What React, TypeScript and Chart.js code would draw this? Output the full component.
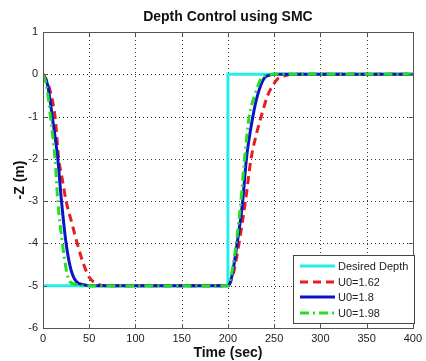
import React, { useEffect, useRef } from "react";
import { Chart, registerables } from "chart.js";

Chart.register(...registerables);

const TITLE = "Depth Control using SMC";
const X_LABEL = "Time (sec)";
const Y_LABEL = "-Z (m)";
const X_MIN = 0;
const X_MAX = 400;
const X_STEP = 50;
const Y_MIN = -6;
const Y_MAX = 1;
const Y_STEP = 1;

const SERIES_LABELS = ["Desired Depth", "U0=1.62", "U0=1.8", "U0=1.98"];

const desiredT = [0, 200, 200, 400];
const desiredZ = [-5, -5, 0, 0];

const u162T = [0, 5, 10, 13, 17, 21, 25, 31, 37, 44, 50, 58, 68, 80, 200, 203, 207, 212, 219, 225, 231, 236, 243, 249, 254, 262, 270, 290, 400];
const u162Z = [0, -0.2, -0.6, -1, -2, -2.5, -3, -3.5, -4, -4.5, -4.8, -4.95, -5, -5, -5, -4.9, -4.6, -4, -3, -2, -1.4, -1, -0.5, -0.25, -0.1, -0.03, 0, 0, 0];

const u18T = [0, 5, 10, 16, 20, 25, 30, 36, 45, 50, 200, 202, 205, 210, 216, 220, 227, 232, 239, 245, 250, 400];
const u18Z = [0, -0.25, -1, -2, -3, -4, -4.6, -4.9, -4.98, -5, -5, -4.95, -4.7, -4, -3, -2, -1, -0.5, -0.1, -0.02, 0, 0];

const u198T = [0, 4, 8, 13, 16, 21, 25, 29, 38, 45, 200, 202, 205, 209, 214, 218, 223, 229, 236, 242, 248, 400];
const u198Z = [0, -0.3, -1, -2, -3, -4, -4.6, -4.9, -4.98, -5, -5, -4.9, -4.6, -4, -3, -2, -1, -0.5, -0.1, -0.02, 0, 0];

const COLORS = ["#22eeee", "#e61e1e", "#0c12c8", "#22e022"];
const DASHES: number[][] = [[], [8, 5], [], [9, 4, 2, 4]];

const FONT = "'Liberation Sans', Arial, sans-serif";

function pts(t: number[], z: number[]) {
  return t.map((x, i) => ({ x, y: z[i] }));
}

const decorPlugin = {
  id: "matlabDecor",
  beforeDatasetsDraw(chart: any) {
    const { ctx, chartArea: a, scales } = chart;
    const xs = scales.x;
    const ys = scales.y;
    ctx.save();
    ctx.strokeStyle = "#333";
    ctx.lineWidth = 1;
    ctx.setLineDash([1, 3]);
    for (let v = X_MIN + X_STEP; v < X_MAX; v += X_STEP) {
      const px = Math.round(xs.getPixelForValue(v)) + 0.5;
      ctx.beginPath();
      ctx.moveTo(px, a.top);
      ctx.lineTo(px, a.bottom);
      ctx.stroke();
    }
    for (let v = Y_MIN + Y_STEP; v < Y_MAX; v += Y_STEP) {
      const py = Math.round(ys.getPixelForValue(v)) + 0.5;
      ctx.beginPath();
      ctx.moveTo(a.left, py);
      ctx.lineTo(a.right, py);
      ctx.stroke();
    }
    ctx.restore();
  },
  afterDraw(chart: any) {
    const { ctx, chartArea: a, scales } = chart;
    const xs = scales.x;
    const ys = scales.y;
    ctx.save();
    // box
    ctx.strokeStyle = "#555";
    ctx.lineWidth = 1;
    ctx.setLineDash([]);
    ctx.strokeRect(Math.round(a.left) + 0.5, Math.round(a.top) + 0.5, Math.round(a.right - a.left), Math.round(a.bottom - a.top));
    // ticks inward
    ctx.beginPath();
    for (let v = X_MIN; v <= X_MAX; v += X_STEP) {
      const px = Math.round(xs.getPixelForValue(v)) + 0.5;
      ctx.moveTo(px, a.bottom);
      ctx.lineTo(px, a.bottom - 4);
      ctx.moveTo(px, a.top);
      ctx.lineTo(px, a.top + 4);
    }
    for (let v = Y_MIN; v <= Y_MAX; v += Y_STEP) {
      const py = Math.round(ys.getPixelForValue(v)) + 0.5;
      ctx.moveTo(a.left, py);
      ctx.lineTo(a.left + 4, py);
      ctx.moveTo(a.right, py);
      ctx.lineTo(a.right - 4, py);
    }
    ctx.stroke();

    // title
    ctx.fillStyle = "#111";
    ctx.font = `bold 14px ${FONT}`;
    ctx.textAlign = "center";
    ctx.textBaseline = "middle";
    ctx.fillText(TITLE, (a.left + a.right) / 2, 17);
    // x label
    ctx.fillText(X_LABEL, (a.left + a.right) / 2, 353);
    // y label
    ctx.save();
    ctx.translate(20, (a.top + a.bottom) / 2);
    ctx.rotate(-Math.PI / 2);
    ctx.fillText(Y_LABEL, 0, 0);
    ctx.restore();

    // legend
    const lx = 293, ly = 255, lw = 121, lh = 68;
    ctx.fillStyle = "#fff";
    ctx.fillRect(lx, ly, lw, lh);
    ctx.strokeStyle = "#444";
    ctx.lineWidth = 1;
    ctx.strokeRect(lx + 0.5, ly + 0.5, lw, lh);
    const rows = [266, 282, 297, 313];
    ctx.font = `11px ${FONT}`;
    ctx.textAlign = "left";
    ctx.textBaseline = "middle";
    chart.data.datasets.forEach((ds: any, i: number) => {
      const y = rows[i];
      ctx.strokeStyle = ds.borderColor;
      ctx.lineWidth = 3;
      ctx.setLineDash(ds.borderDash || []);
      ctx.beginPath();
      ctx.moveTo(300, y);
      ctx.lineTo(335, y);
      ctx.stroke();
      ctx.setLineDash([]);
      ctx.fillStyle = "#222";
      ctx.fillText(ds.label, 338, y + 0.5);
    });
    ctx.restore();
  },
};

export default function App() {
  const ref = useRef<HTMLCanvasElement | null>(null);
  useEffect(() => {
    if (!ref.current) return;
    const series = [
      pts(desiredT, desiredZ),
      pts(u162T, u162Z),
      pts(u18T, u18Z),
      pts(u198T, u198Z),
    ];
    const chart = new Chart(ref.current, {
      type: "line",
      data: {
        datasets: series.map((d, i) => ({
          label: SERIES_LABELS[i],
          data: d,
          borderColor: COLORS[i],
          backgroundColor: COLORS[i],
          borderWidth: 3,
          borderDash: DASHES[i],
          pointRadius: 0,
          fill: false,
          tension: i === 0 ? 0 : 0.4,
          cubicInterpolationMode: i === 0 ? "default" : "monotone",
          order: 4 - i,
        })),
      } as any,
      options: {
        responsive: false,
        animation: false,
        devicePixelRatio: 1,
        layout: { padding: { top: 32, right: 6, left: 0, bottom: 0 } },
        plugins: { legend: { display: false }, title: { display: false }, tooltip: { enabled: false } },
        scales: {
          x: {
            type: "linear",
            min: X_MIN,
            max: X_MAX,
            ticks: { stepSize: X_STEP, padding: 4, color: "#222", font: { family: FONT, size: 11 }, maxRotation: 0 },
            grid: { display: false, drawTicks: false },
            border: { display: false },
            afterFit(s: any) { s.height = 33; },
          },
          y: {
            type: "linear",
            min: Y_MIN,
            max: Y_MAX,
            ticks: { stepSize: Y_STEP, padding: 5, color: "#222", font: { family: FONT, size: 11 } },
            grid: { display: false, drawTicks: false },
            border: { display: false },
            afterFit(s: any) { s.width = 43; },
          },
        },
      } as any,
      plugins: [decorPlugin],
    });
    return () => chart.destroy();
  }, []);
  return (
    <div style={{ position: "absolute", left: 0, top: 0, width: 426, height: 361, background: "#fff" }}>
      <canvas ref={ref} width={426} height={361} style={{ width: 426, height: 361 }} />
    </div>
  );
}
